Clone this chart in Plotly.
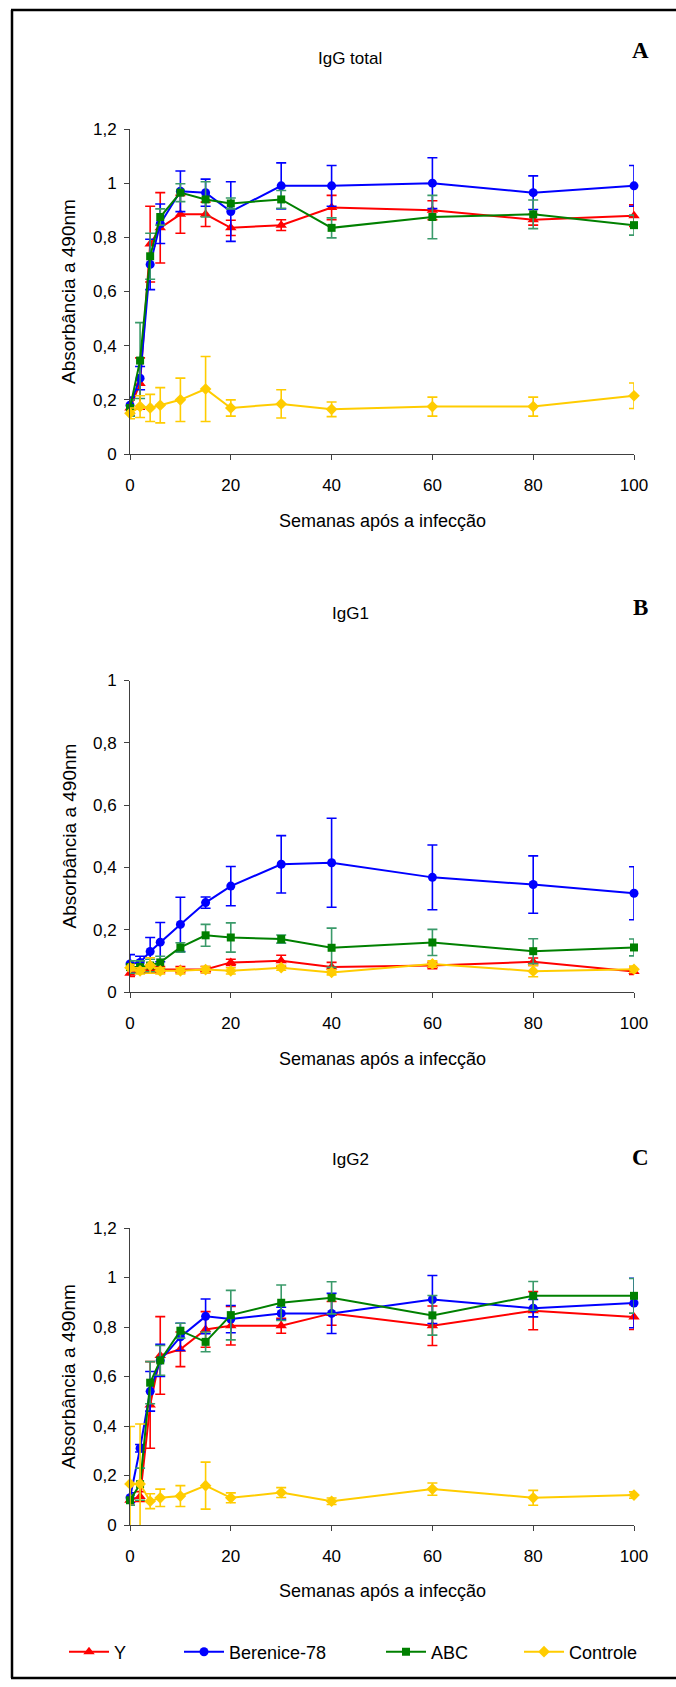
import plotly.graph_objects as go

W, H = 676, 1687

weeks = [0, 2, 4, 6, 10, 15, 20, 30, 40, 60, 80, 100]
series_names = ["Y", "Berenice-78", "ABC", "Controle"]

# Panel A - IgG total
a_y = [0.17, 0.26, 0.775, 0.835, 0.885, 0.885, 0.835, 0.845, 0.91, 0.90, 0.865, 0.88]
a_y_err = [0.03, 0.095, 0.14, 0.13, 0.07, 0.045, 0.028, 0.02, 0.045, 0.035, 0.02, 0.04]
a_ber = [0.18, 0.28, 0.70, 0.85, 0.97, 0.965, 0.895, 0.99, 0.99, 1.0, 0.965, 0.99]
a_ber_err = [0.03, 0.043, 0.093, 0.073, 0.075, 0.05, 0.11, 0.085, 0.075, 0.094, 0.062, 0.075]
a_abc = [0.17, 0.345, 0.73, 0.875, 0.965, 0.94, 0.925, 0.94, 0.835, 0.875, 0.885, 0.845]
a_abc_err = [0.03, 0.14, 0.085, 0.03, 0.033, 0.065, 0.02, 0.033, 0.037, 0.08, 0.053, 0.037]
a_ctl = [0.15, 0.175, 0.17, 0.18, 0.20, 0.24, 0.17, 0.185, 0.165, 0.175, 0.175, 0.215]
a_ctl_err = [0.02, 0.04, 0.05, 0.065, 0.08, 0.12, 0.03, 0.052, 0.027, 0.035, 0.035, 0.047]

# Panel B - IgG1
b_y = [0.06, 0.07, 0.07, 0.072, 0.072, 0.072, 0.095, 0.10, 0.08, 0.085, 0.097, 0.066]
b_y_err = [0.01, 0.01, 0.01, 0.01, 0.01, 0.01, 0.01, 0.018, 0.015, 0.01, 0.012, 0.01]
b_ber = [0.09, 0.095, 0.13, 0.16, 0.217, 0.287, 0.34, 0.41, 0.415, 0.368, 0.345, 0.317]
b_ber_err = [0.03, 0.02, 0.045, 0.063, 0.087, 0.018, 0.063, 0.092, 0.143, 0.104, 0.092, 0.085]
b_abc = [0.08, 0.08, 0.085, 0.095, 0.143, 0.182, 0.175, 0.17, 0.142, 0.159, 0.131, 0.143]
b_abc_err = [0.02, 0.02, 0.02, 0.02, 0.015, 0.035, 0.047, 0.013, 0.063, 0.042, 0.04, 0.027]
b_ctl = [0.078, 0.068, 0.085, 0.068, 0.068, 0.072, 0.068, 0.078, 0.063, 0.09, 0.067, 0.073]
b_ctl_err = [0.01, 0.01, 0.025, 0.01, 0.01, 0.01, 0.01, 0.008, 0.008, 0.01, 0.018, 0.01]

# Panel C - IgG2
c_y = [0.10, 0.115, 0.485, 0.685, 0.71, 0.79, 0.805, 0.805, 0.855, 0.805, 0.866, 0.84]
c_y_err = [0.02, 0.02, 0.175, 0.157, 0.07, 0.072, 0.078, 0.03, 0.048, 0.08, 0.077, 0.05]
c_ber = [0.11, 0.31, 0.54, 0.665, 0.76, 0.843, 0.832, 0.855, 0.855, 0.911, 0.876, 0.897]
c_ber_err = [0.02, 0.015, 0.08, 0.065, 0.055, 0.07, 0.055, 0.025, 0.081, 0.097, 0.035, 0.1]
c_abc = [0.10, 0.165, 0.575, 0.665, 0.785, 0.74, 0.848, 0.898, 0.918, 0.847, 0.926, 0.926]
c_abc_err = [0.02, 0.065, 0.085, 0.06, 0.03, 0.04, 0.1, 0.072, 0.065, 0.08, 0.058, 0.07]
c_ctl = [0.166, 0.166, 0.096, 0.11, 0.117, 0.159, 0.11, 0.131, 0.096, 0.145, 0.11, 0.121]
c_ctl_err_plus = [0.232, 0.242, 0.03, 0.035, 0.042, 0.095, 0.02, 0.02, 0.013, 0.025, 0.03, 0.013]
c_ctl_err_minus = [0.17, 0.17, 0.03, 0.035, 0.042, 0.095, 0.02, 0.02, 0.013, 0.025, 0.03, 0.013]

colors = {"Y": "#FF0000", "Berenice-78": "#0000FF", "ABC": "#008000", "Controle": "#FFCC00"}
err_colors = {"Y": "#FF0000", "Berenice-78": "#0000FF", "ABC": "#3A9A6A", "Controle": "#FFCC00"}
symbols = {"Y": "triangle-up", "Berenice-78": "circle", "ABC": "square", "Controle": "diamond"}
msize = {"Y": 10, "Berenice-78": 9, "ABC": 8, "Controle": 9}
legend_ids = {"Y": "legend", "Berenice-78": "legend2", "ABC": "legend3", "Controle": "legend4"}

panels = [
    ("x", "y", {"Y": (a_y, a_y_err, a_y_err), "Berenice-78": (a_ber, a_ber_err, a_ber_err),
                "ABC": (a_abc, a_abc_err, a_abc_err), "Controle": (a_ctl, a_ctl_err, a_ctl_err)}),
    ("x2", "y2", {"Y": (b_y, b_y_err, b_y_err), "Berenice-78": (b_ber, b_ber_err, b_ber_err),
                  "ABC": (b_abc, b_abc_err, b_abc_err), "Controle": (b_ctl, b_ctl_err, b_ctl_err)}),
    ("x3", "y3", {"Y": (c_y, c_y_err, c_y_err), "Berenice-78": (c_ber, c_ber_err, c_ber_err),
                  "ABC": (c_abc, c_abc_err, c_abc_err), "Controle": (c_ctl, c_ctl_err_plus, c_ctl_err_minus)}),
]

fig = go.Figure()
for pi, (xa, ya, data) in enumerate(panels):
    for name in series_names:
        vals, ep, em = data[name]
        fig.add_trace(go.Scatter(
            x=weeks, y=vals, xaxis=xa, yaxis=ya, name=name, mode="lines+markers",
            line=dict(color=colors[name], width=2),
            marker=dict(symbol=symbols[name], size=msize[name], color=colors[name],
                        line=dict(width=0)),
            error_y=dict(type="data", array=ep, arrayminus=em, symmetric=False,
                         color=err_colors[name], thickness=1.6, width=5),
            cliponaxis=False,
            showlegend=(pi == 2), legend=legend_ids[name],
        ))

def px(p):
    return p / W

def py(p):
    return 1 - p / H

FONT = "Liberation Sans, Arial, sans-serif"
axis_common = dict(showgrid=False, zeroline=False, showline=True, linecolor="#404040",
                   linewidth=1, ticks="outside", ticklen=5, tickcolor="#404040", tickwidth=1,
                   tickfont=dict(family=FONT, size=17, color="black"))

xdom = [px(130), px(634)]
ydoms = [(454, 129, 1.2, [0, 0.2, 0.4, 0.6, 0.8, 1.0, 1.2]),
         (992, 680.5, 1.0, [0, 0.2, 0.4, 0.6, 0.8, 1.0]),
         (1525, 1228, 1.2, [0, 0.2, 0.4, 0.6, 0.8, 1.0, 1.2])]

def fmt(v):
    s = ("%.1f" % v).rstrip("0").rstrip(".")
    return s.replace(".", ",")

layout = dict(width=W, height=H, margin=dict(l=0, r=0, t=0, b=0, autoexpand=False),
              paper_bgcolor="white", plot_bgcolor="rgba(0,0,0,0)",
              font=dict(family=FONT, color="black"))
for i, (y0, y1, top, tv) in enumerate(ydoms):
    sfx = "" if i == 0 else str(i + 1)
    layout["xaxis" + sfx] = dict(axis_common, domain=xdom, range=[0, 100],
                                 tickvals=[0, 20, 40, 60, 80, 100], anchor="y" + sfx,
                                 ticklabelstandoff=11)
    layout["yaxis" + sfx] = dict(axis_common, domain=[py(y0), py(y1)], range=[0, top],
                                 tickvals=tv, ticktext=[fmt(v) for v in tv], anchor="x" + sfx,
                                 ticklabelstandoff=4)
fig.update_layout(**layout)

# legends, one per series, placed like the reference's single legend row
leg_x = [64, 179, 381, 519]
for name, lx in zip(series_names, leg_x):
    fig.update_layout({legend_ids[name]: dict(
        x=px(lx), xanchor="left", y=py(1652), yanchor="middle", orientation="h",
        bgcolor="rgba(0,0,0,0)", borderwidth=0, itemwidth=40,
        font=dict(family=FONT, size=18, color="black"))})

titles = ["IgG total", "IgG1", "IgG2"]
title_y = [59, 613, 1159]
letters = ["A", "B", "C"]
letter_y = [50, 607, 1157]
xtitle_y = [521, 1059, 1591]
ymid = [291.5, 836, 1376.5]
ann = []
for t, ty, L, ly, xy, ym in zip(titles, title_y, letters, letter_y, xtitle_y, ymid):
    ann.append(dict(text=t, x=px(350), y=py(ty), xref="paper", yref="paper", showarrow=False,
                    xanchor="center", yanchor="middle", font=dict(family=FONT, size=17)))
    ann.append(dict(text="<b>%s</b>" % L, x=px(640), y=py(ly), xref="paper", yref="paper",
                    showarrow=False, xanchor="center", yanchor="middle",
                    font=dict(family="Liberation Serif, Times New Roman, serif", size=23)))
    ann.append(dict(text="Semanas após a infecção", x=px(382), y=py(xy), xref="paper", yref="paper",
                    showarrow=False, xanchor="center", yanchor="middle",
                    font=dict(family=FONT, size=18)))
    ann.append(dict(text="Absorbância a 490nm", x=px(68.5), y=py(ym), xref="paper", yref="paper",
                    showarrow=False, xanchor="center", yanchor="middle", textangle=-90,
                    font=dict(family=FONT, size=19)))
fig.update_layout(annotations=ann)

# outer frame: left, top and bottom edges (right edge is outside the crop in the reference)
frame = dict(xref="paper", yref="paper", line=dict(color="black", width=2.5), layer="below")
fig.add_shape(type="line", x0=px(12), x1=px(12), y0=py(1678), y1=py(10), **frame)
fig.add_shape(type="line", x0=px(11), x1=1, y0=py(10), y1=py(10), **frame)
fig.add_shape(type="line", x0=px(11), x1=1, y0=py(1678), y1=py(1678), **frame)

fig.write_html("out.html", config={"displayModeBar": False})
